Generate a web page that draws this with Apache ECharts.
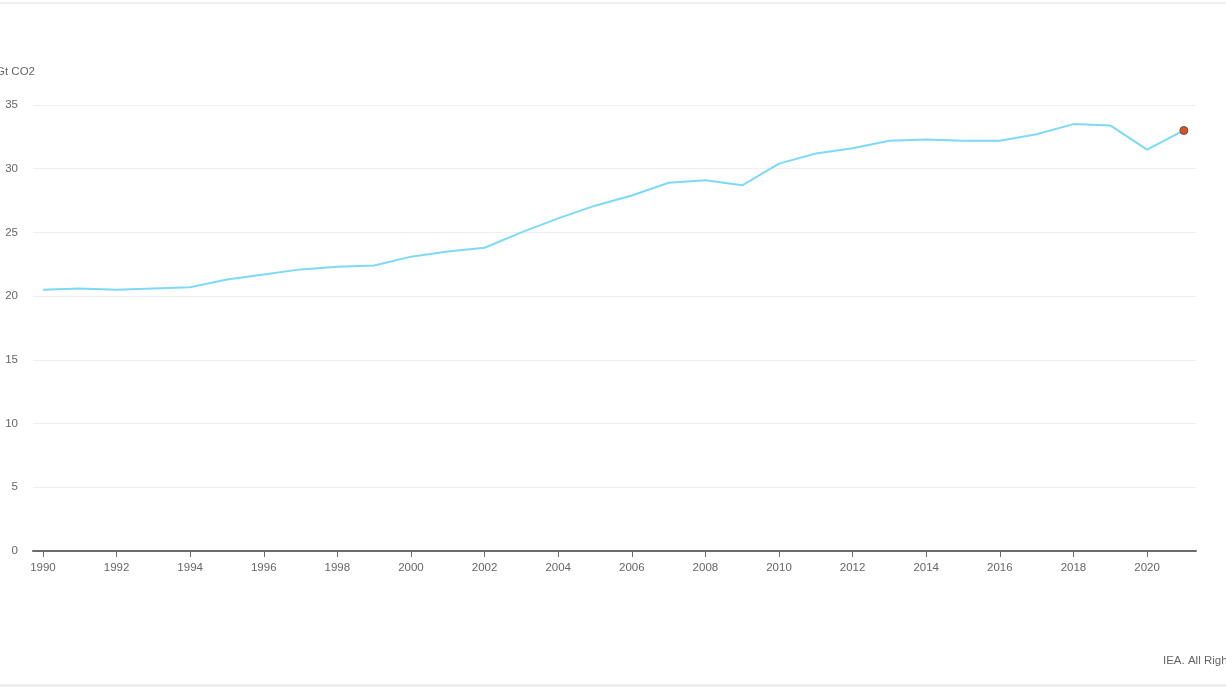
<!DOCTYPE html>
<html><head><meta charset="utf-8">
<script src="https://cdn.jsdelivr.net/npm/echarts@6/dist/echarts.min.js"></script>
<style>html,body{margin:0;padding:0;background:#fff}#c{width:1226px;height:690px}</style>
</head><body><div id="c"></div>
<script>
const years = [1990,1991,1992,1993,1994,1995,1996,1997,1998,1999,2000,2001,2002,2003,2004,2005,2006,2007,2008,2009,2010,2011,2012,2013,2014,2015,2016,2017,2018,2019,2020,2021];
const emissions = [20.5,20.6,20.5,20.6,20.7,21.3,21.7,22.1,22.3,22.4,23.1,23.5,23.8,25.0,26.1,27.1,27.9,28.9,29.1,28.7,30.4,31.2,31.6,32.2,32.3,32.2,32.2,32.7,33.5,33.4,31.5,33.0];
const tickYears = [1990,1992,1994,1996,1998,2000,2002,2004,2006,2008,2010,2012,2014,2016,2018,2020];
const unitLabel = 'Gt CO2';
const sourceLabel = 'IEA. All Rights Reserved';

const chart = echarts.init(document.getElementById('c'));
const pts = years.map((y,i)=>[y,emissions[i]]);
chart.setOption({
  animation:false,
  grid:{left:33,right:30,top:105,bottom:139},
  xAxis:{type:'value',min:1989.73,max:2021.33,
    axisLine:{show:true,lineStyle:{color:'#6b6b6b',width:2}},
    axisTick:{show:true,customValues:tickYears,length:6,lineStyle:{color:'#6b6b6b',width:1}},
    axisLabel:{customValues:tickYears,color:'#666',fontSize:11.5,fontFamily:'Liberation Sans',margin:11,formatter:v=>String(v)},
    splitLine:{show:false}},
  yAxis:{type:'value',min:0,max:35,interval:5,
    axisLine:{show:false},axisTick:{show:false},
    axisLabel:{color:'#666',fontSize:11.5,fontFamily:'Liberation Sans',margin:15,padding:[3,0,0,0]},
    splitLine:{lineStyle:{color:'#eeeeee',width:1}}},
  series:[{type:'line',data:pts,symbol:'none',lineStyle:{color:'#7dd9f8',width:2},
    markPoint:{symbol:'circle',symbolSize:8,label:{show:false},
      itemStyle:{color:'#e2501f',borderColor:'#555',borderWidth:1},
      data:[{coord:pts[pts.length-1]}]}}],
  graphic:[
    {type:'text',left:-4,top:66,style:{text:unitLabel,fill:'#666',font:'11.5px "Liberation Sans"'}},
    {type:'text',left:1163,top:655,style:{text:sourceLabel,fill:'#666',font:'11.5px "Liberation Sans"'}},
    {type:'rect',shape:{x:0,y:2,width:1226,height:2},style:{fill:'#efefef'}},
    {type:'rect',shape:{x:0,y:684,width:1226,height:3},style:{fill:'#efefef'}}
  ]
});
</script></body></html>
